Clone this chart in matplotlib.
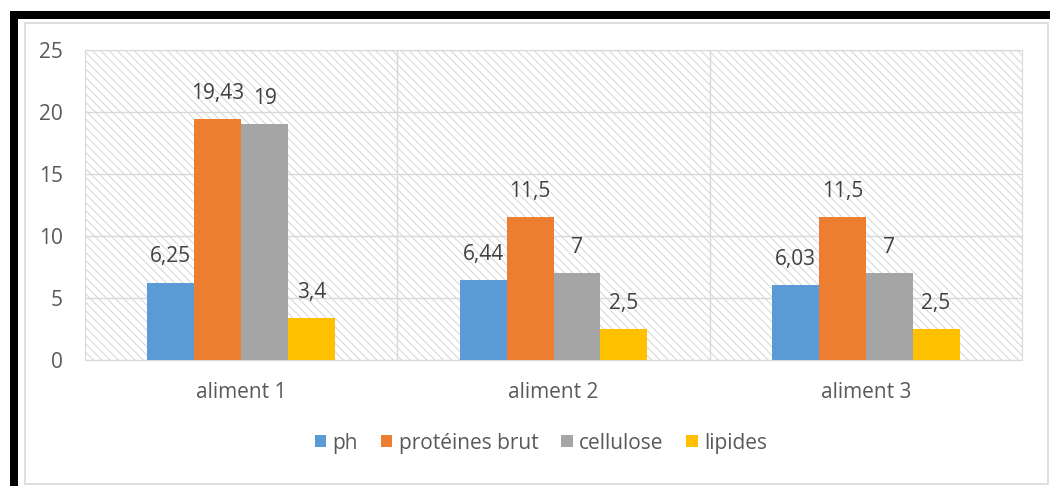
import matplotlib.pyplot as plt
import numpy as np
from matplotlib.patches import Rectangle

# data
aliments = ["aliment 1", "aliment 2", "aliment 3"]
series = ["ph", "protéines brut", "cellulose", "lipides"]
ph = [6.25, 6.44, 6.03]
proteines = [19.43, 11.5, 11.5]
cellulose = [19, 7, 7]
lipides = [3.4, 2.5, 2.5]
colors = ["#5b9bd5", "#ed7d31", "#a5a5a5", "#ffc000"]

plt.rcParams['font.family'] = ['Open Sans', 'DejaVu Sans']
plt.rcParams['hatch.color'] = '#d9d9d9'
plt.rcParams['hatch.linewidth'] = 0.8

W, H = 1050, 486
fig = plt.figure(figsize=(W / 100, H / 100), dpi=100)

# outer frame decorations (black bars top/left, light grey chart border)
fig.patches.append(Rectangle((10 / W, 1 - 19 / H), 1, 8 / H, transform=fig.transFigure,
                             facecolor='black', edgecolor='none'))
fig.patches.append(Rectangle((10 / W, 0), 8 / W, 1 - 11 / H, transform=fig.transFigure,
                             facecolor='black', edgecolor='none'))
fig.patches.append(Rectangle((25 / W, 2 / H), 1023 / W, 1 - 25 / H, transform=fig.transFigure,
                             facecolor='none', edgecolor='#d9d9d9', lw=1.2))

ax = fig.add_axes([85 / W, 1 - 360 / H, 937 / W, 310 / H])
ax.patch.set_facecolor('white')
ax.patch.set_hatch('\\\\\\\\')
ax.patch.set_edgecolor('#d9d9d9')

x = np.arange(len(aliments))
bw = 0.15
values = [ph, proteines, cellulose, lipides]
for i, (name, vals, c) in enumerate(zip(series, values, colors)):
    pos = x + (i - 1.5) * bw
    bars = ax.bar(pos, vals, width=bw, color=c, label=name, zorder=3)
    labels = [f"{v:g}".replace('.', ',') for v in vals]
    ax.bar_label(bars, labels=labels, padding=11, fontsize=15, color='#404040')

ax.set_xlim(-0.5, 2.5)
ax.set_ylim(0, 25)
ax.set_yticks(range(0, 26, 5))
ax.set_xticks(x)
ax.set_xticklabels(aliments)
ax.set_xticks([0.5, 1.5], minor=True)
ax.grid(axis='y', color='#d9d9d9', lw=1, zorder=1)
ax.grid(axis='x', which='minor', color='#d9d9d9', lw=1, zorder=1)
ax.tick_params(axis='both', which='both', length=0, labelsize=15, colors='#595959')
ax.tick_params(axis='x', pad=16)
ax.tick_params(axis='y', pad=16)
for s in ax.spines.values():
    s.set_color('#d9d9d9')
ax.set_axisbelow(True)

fig.legend(loc='center', bbox_to_anchor=(541 / W, 1 - 443 / H), ncol=4, frameon=False,
           fontsize=15, handlelength=0.55, handleheight=0.55, handletextpad=0.3,
           columnspacing=1.1, labelcolor='#595959')

fig.savefig("out.png", dpi=100)
